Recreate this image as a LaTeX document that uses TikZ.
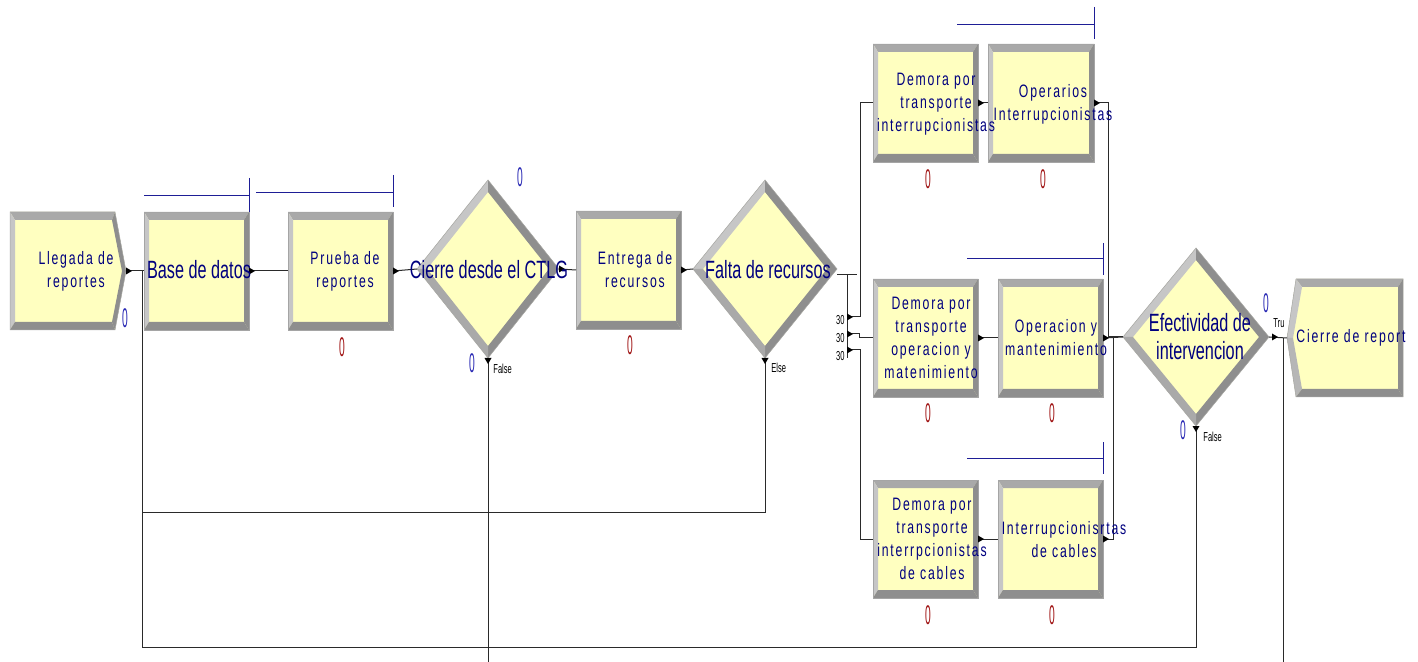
\documentclass[tikz,border=0pt]{standalone}
\usepackage{fontspec}
\setmainfont{Liberation Sans}
\newfontfamily\modfont[FakeStretch=0.68,LetterSpace=10]{Liberation Sans}
\newfontfamily\bigfont[FakeStretch=0.65]{Liberation Sans}
\newfontfamily\cntfont[FakeStretch=0.38]{Liberation Sans}
\newfontfamily\lblfont[FakeStretch=0.58]{Liberation Sans}
\usetikzlibrary{shapes.geometric,calc}
\pgfdeclarelayer{bg}
\pgfdeclarelayer{paper}
\pgfsetlayers{paper,bg,main}
\definecolor{modyel}{HTML}{FFFFC0}
\definecolor{bvlight}{HTML}{C6C6C6}
\definecolor{bvmid}{HTML}{A9A9A9}
\definecolor{bvdark}{HTML}{8E8E8E}
\definecolor{txtnavy}{HTML}{00007F}
\definecolor{cntblue}{HTML}{2828B4}
\definecolor{cntred}{HTML}{A01414}
\definecolor{qblue}{HTML}{1E1E96}
\definecolor{connc}{HTML}{2A2A2A}
\tikzset{
  modbox/.style={rectangle, minimum width=52.5pt, minimum height=59pt, inner sep=0pt, outer sep=0pt},
  diabox/.style={diamond, inner sep=0pt, outer sep=0pt},
  modtxt/.style={text=txtnavy, font=\modfont\fontsize{9pt}{11.5pt}\selectfont, align=center, inner sep=0pt},
  bigtxt/.style={text=txtnavy, font=\bigfont\fontsize{12.5pt}{14pt}\selectfont, align=center, inner sep=0pt},
  cntb/.style={text=cntblue, font=\cntfont\fontsize{13.5pt}{13.5pt}\selectfont, inner sep=0pt},
  cntr/.style={text=cntred, font=\cntfont\fontsize{13.5pt}{13.5pt}\selectfont, inner sep=0pt},
  lbl/.style={text=black, font=\lblfont\fontsize{6.5pt}{7pt}\selectfont, inner sep=0pt},
  conn/.style={draw=connc, line width=0.5pt},
  queue/.style={draw=qblue, line width=0.42pt},
  edgeln/.style={draw=bvdark!80, line width=0.25pt}
}
\newcommand\rbev[1]{%
\begin{pgfonlayer}{bg}
\fill[modyel] (#1.north west) rectangle (#1.south east);
\fill[bvmid] (#1.north west) -- (#1.north east) -- ($(#1.north east)+(-5,8)$) -- ($(#1.north west)+(5,8)$) -- cycle;
\fill[bvlight] (#1.north west) -- ($(#1.north west)+(5,8)$) -- ($(#1.south west)+(5,-8)$) -- (#1.south west) -- cycle;
\fill[bvdark] (#1.north east) -- ($(#1.north east)+(-5,8)$) -- ($(#1.south east)+(-5,-8)$) -- (#1.south east) -- cycle;
\fill[bvdark] (#1.south west) -- ($(#1.south west)+(5,-8)$) -- ($(#1.south east)+(-5,-8)$) -- (#1.south east) -- cycle;
\draw[edgeln] (#1.north west) rectangle (#1.south east);
\end{pgfonlayer}}
\newcommand\dbev[1]{%
\begin{pgfonlayer}{bg}
\fill[modyel] (#1.north) -- (#1.east) -- (#1.south) -- (#1.west) -- cycle;
\fill[bvlight] (#1.west) -- (#1.north) -- ($(#1.north)+(0,12)$) -- ($(#1.west)+(10,0)$) -- cycle;
\fill[bvdark] (#1.north) -- (#1.east) -- ($(#1.east)+(-10,0)$) -- ($(#1.north)+(0,12)$) -- cycle;
\fill[bvdark] (#1.east) -- (#1.south) -- ($(#1.south)+(0,-12)$) -- ($(#1.east)+(-10,0)$) -- cycle;
\fill[bvmid] (#1.south) -- (#1.west) -- ($(#1.west)+(10,0)$) -- ($(#1.south)+(0,-12)$) -- cycle;
\draw[edgeln] (#1.north) -- (#1.east) -- (#1.south) -- (#1.west) -- cycle;
\end{pgfonlayer}}
\newcommand\exR[1]{\fill[black] ($(#1)+(0,-3.5)$) -- ($(#1)+(6,0)$) -- ($(#1)+(0,3.5)$) -- cycle;}
\newcommand\exD[1]{\fill[black] ($(#1)+(-3.5,0)$) -- ($(#1)+(0,6)$) -- ($(#1)+(3.5,0)$) -- cycle;}
\begin{document}
\begin{tikzpicture}[x=0.5pt,y=-0.5pt]
\useasboundingbox (0,0) rectangle (1418,662);
\begin{pgfonlayer}{paper}
\fill[white] (0,0) rectangle (1418,662);
\end{pgfonlayer}

% ---------- module shapes ----------
\node[modbox, minimum width=58pt] (lleg) at (68,271) {};
\begin{pgfonlayer}{bg}
\coordinate (lA) at (lleg.north west);
\coordinate (lB) at ($(lleg.north east)+(-11,0)$);
\coordinate (lC) at (lleg.east);
\coordinate (lD) at ($(lleg.south east)+(-11,0)$);
\coordinate (lE) at (lleg.south west);
\fill[modyel] (lA) -- (lB) -- (lC) -- (lD) -- (lE) -- cycle;
\fill[bvmid] (lA) -- (lB) -- ($(lB)+(-3,8)$) -- ($(lA)+(5,8)$) -- cycle;
\fill[bvlight] (lA) -- ($(lA)+(5,8)$) -- ($(lE)+(5,-8)$) -- (lE) -- cycle;
\fill[bvdark] (lB) -- (lC) -- ($(lC)+(-4,0)$) -- ($(lB)+(-3,8)$) -- cycle;
\fill[bvdark] (lC) -- (lD) -- ($(lD)+(-3,-8)$) -- ($(lC)+(-4,0)$) -- cycle;
\fill[bvdark] (lE) -- ($(lE)+(5,-8)$) -- ($(lD)+(-3,-8)$) -- (lD) -- cycle;
\draw[edgeln] (lA) -- (lB) -- (lC) -- (lD) -- (lE) -- cycle;
\end{pgfonlayer}

\node[modbox] (bd) at (196.5,271) {};
\rbev{bd}
\node[modbox] (prueba) at (340.5,271) {};
\rbev{prueba}
\node[diabox, minimum width=71pt, minimum height=89pt] (cierre) at (488,269) {};
\dbev{cierre}
\node[modbox] (entrega) at (628.5,270) {};
\rbev{entrega}
\node[diabox, minimum width=72pt, minimum height=89pt] (falta) at (765,269) {};
\dbev{falta}

\node[modbox] (dem1) at (925.5,103) {};
\rbev{dem1}
\node[modbox, minimum width=53pt] (oper) at (1041,103) {};
\rbev{oper}
\node[modbox] (dem2) at (925.5,338) {};
\rbev{dem2}
\node[modbox] (opm) at (1050.5,338) {};
\rbev{opm}
\node[modbox] (dem3) at (925.5,539) {};
\rbev{dem3}
\node[modbox] (cables) at (1050.5,539) {};
\rbev{cables}

\node[diabox, minimum width=73pt, minimum height=89pt] (efect) at (1196,337) {};
\dbev{efect}

\node[modbox, minimum width=58pt] (crep) at (1345,338) {};
\begin{pgfonlayer}{bg}
\coordinate (cP) at (crep.west);
\coordinate (cA) at ($(crep.north west)+(9,0)$);
\coordinate (cB) at (crep.north east);
\coordinate (cC) at (crep.south east);
\coordinate (cD) at ($(crep.south west)+(9,0)$);
\fill[modyel] (cP) -- (cA) -- (cB) -- (cC) -- (cD) -- cycle;
\fill[bvmid] (cA) -- (cB) -- ($(cB)+(-5,8)$) -- ($(cA)+(6,8)$) -- cycle;
\fill[bvlight] (cP) -- (cA) -- ($(cA)+(6,8)$) -- ($(cP)+(6,0)$) -- cycle;
\fill[bvlight!92!black] (cP) -- (cD) -- ($(cD)+(6,-8)$) -- ($(cP)+(6,0)$) -- cycle;
\fill[bvdark] (cB) -- (cC) -- ($(cC)+(-5,-8)$) -- ($(cB)+(-5,8)$) -- cycle;
\fill[bvdark] (cD) -- (cC) -- ($(cC)+(-5,-8)$) -- ($(cD)+(6,-8)$) -- cycle;
\draw[edgeln] (cP) -- (cA) -- (cB) -- (cC) -- (cD) -- cycle;
\end{pgfonlayer}

% ---------- queues ----------
\draw[queue] ($(bd.north west)+(0,-17)$) -- ($(bd.north east)+(0,-17)$);
\draw[queue] ($(bd.north east)+(0,-34)$) -- (bd.north east);
\draw[queue] ($(prueba.north west)+(-32,-20)$) -- ($(prueba.north east)+(0,-20)$);
\draw[queue] ($(prueba.north east)+(0,-37)$) -- ($(prueba.north east)+(0,-5)$);
\draw[queue] ($(oper.north west)+(-31,-20)$) -- ($(oper.north east)+(0,-20)$);
\draw[queue] ($(oper.north east)+(0,-37)$) -- ($(oper.north east)+(0,-5)$);
\draw[queue] ($(opm.north west)+(-31,-21)$) -- ($(opm.north east)+(0,-21)$);
\draw[queue] ($(opm.north east)+(0,-36)$) -- ($(opm.north east)+(0,-4)$);
\draw[queue] ($(cables.north west)+(-31,-22)$) -- ($(cables.north east)+(0,-22)$);
\draw[queue] ($(cables.north east)+(0,-38)$) -- ($(cables.north east)+(0,-6)$);

% ---------- connectors ----------
\coordinate (jL) at (142,271);
\coordinate (jM) at (142,512);
\coordinate (jB) at (142,647);
\coordinate (cbot) at (488,662);
\draw[conn] (lleg.east) -- (jL) -- (jB) -| (efect.south);
\draw[conn] (jL) -- (bd.west);
\draw[conn] (jM) -| (falta.south);
\draw[conn] (cierre.south) -- (cbot);
\draw[conn] (bd.east) -- (prueba.west);
\draw[conn] (prueba.east) -- (cierre.west);
\draw[conn] (cierre.east) -- (entrega.west);
\draw[conn] (entrega.east) -- (falta.west);
\draw[conn] ($(falta.east)+(0,6)$) -- ++(20,0);
\coordinate (ex1) at (847,317);
\coordinate (ex2) at (847,334);
\coordinate (ex3) at (847,350);
\draw[conn] ($(falta.east)+(10,6)$) -- ($(falta.east)+(10,89)$);
\draw[conn] (ex1) -- ++(13,0) |- (dem1.west);
\draw[conn] (ex2) -- ++(12,0) |- (dem2.west);
\draw[conn] (ex3) -- ++(13,0) |- (dem3.west);
\draw[conn] (dem1.east) -- (oper.west);
\draw[conn] (oper.east) -- ++(14,0) |- (efect.west);
\draw[conn] (dem2.east) -- (opm.west);
\draw[conn] (opm.east) -- (efect.west);
\draw[conn] (dem3.east) -- (cables.west);
\draw[conn] (cables.east) -- ++(10,0) |- (efect.west);
\draw[conn] (efect.east) -- (crep.west);
\draw[conn] ($(crep.west)+(-4,0)$) -- ++(0,325);

% exit markers
\exR{lleg.east}
\exR{bd.east}
\exR{prueba.east}
\exR{cierre.east}
\exR{entrega.east}
\exR{ex1}\exR{ex2}\exR{ex3}
\exR{dem1.east}\exR{oper.east}
\exR{dem2.east}\exR{opm.east}
\exR{dem3.east}\exR{cables.east}
\exR{$(efect.east)+(3,0)$}
\exD{cierre.south}
\exD{falta.south}
\exD{efect.south}

% ---------- texts ----------
\node[modtxt] (lleg-t) at (76,271) {Llegada de\\reportes};
\node[bigtxt] (bd-t) at (199,270) {Base de datos};
\node[modtxt] (prueba-t) at (345,271) {Prueba de\\reportes};
\node[bigtxt] (cierre-t) at (489,270) {Cierre desde el CTLG};
\node[modtxt] (entrega-t) at (635,270) {Entrega de\\recursos};
\node[bigtxt] (falta-t) at (768,270) {Falta de recursos};
\node[modtxt] (dem1-t) at (936,104) {Demora por\\transporte\\interrupcionistas};
\node[modtxt] (oper-t) at (1053,104) {Operarios\\Interrupcionistas};
\node[modtxt] (dem2-t) at (931,338) {Demora por\\transporte\\operacion y\\matenimiento};
\node[modtxt] (opm-t) at (1056,338) {Operacion y\\mantenimiento};
\node[modtxt] (dem3-t) at (932,539) {Demora por\\transporte\\interrpcionistas\\de cables};
\node[modtxt] (cables-t) at (1064,540) {Interrupcionisrtas\\de cables};
\node[bigtxt] (efect-t) at (1200,337) {Efectividad de\\intervencion};
\node[modtxt, anchor=west] (crep-t) at (1296,338) {Cierre de report};

% counters
\node[cntb] (c1) at (125,318) {0};
\node[cntr] (c2) at (342,347) {0};
\node[cntb] (c3) at (520,177) {0};
\node[cntb] (c4) at (472,363) {0};
\node[cntr] (c5) at (630,345) {0};
\node[cntr] (c6) at (928,179) {0};
\node[cntr] (c7) at (1043,179) {0};
\node[cntr] (c8) at (928,413) {0};
\node[cntr] (c9) at (1052,413) {0};
\node[cntr] (c10) at (928,615) {0};
\node[cntr] (c11) at (1052,615) {0};
\node[cntb] (c12) at (1266,303) {0};
\node[cntb] (c13) at (1183,430) {0};

% branch labels
\node[lbl, anchor=west] (l1) at (493,369) {False};
\node[lbl, anchor=west] (l2) at (771,368) {Else};
\node[lbl, anchor=west] (l3) at (1203,437) {False};
\node[lbl, anchor=west] (l4) at (1273,323) {Tru};
\node[lbl, anchor=east] (n1) at (845,320) {30};
\node[lbl, anchor=east] (n2) at (845,338) {30};
\node[lbl, anchor=east] (n3) at (845,356) {30};
\end{tikzpicture}
\end{document}
